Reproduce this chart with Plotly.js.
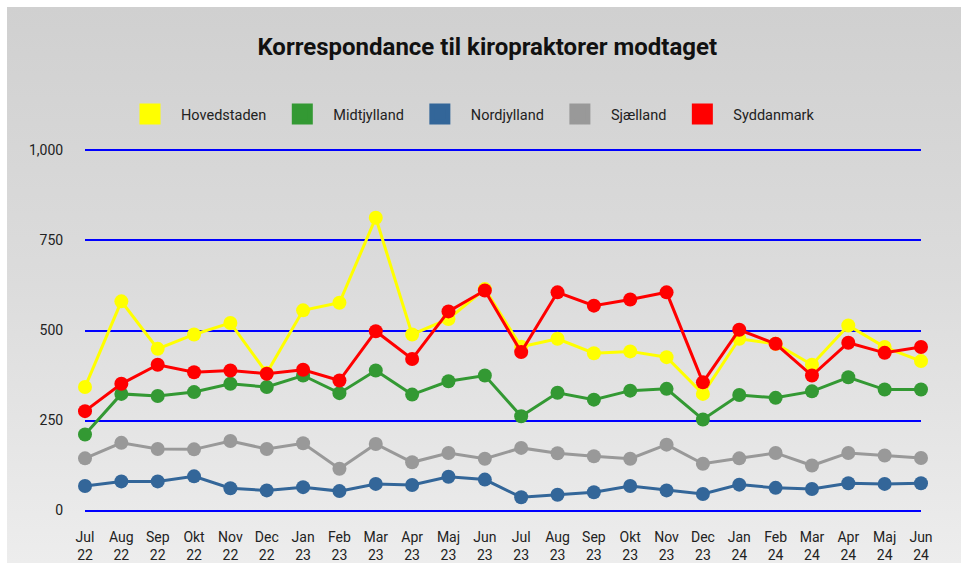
<!DOCTYPE html>
<html>
<head>
<meta charset="utf-8">
<script src="https://cdn.plot.ly/plotly-3.0.1.min.js"></script>
<style>
  html, body { margin: 0; padding: 0; background: #ffffff; }
  #wrap { position: relative; width: 961px; height: 563px; overflow: hidden; }
  #bg { position: absolute; left: 7px; top: 7px; right: 0; bottom: 0;
        background: linear-gradient(to bottom, #d0d0d0 0%, #dcdcdc 50%, #ededed 100%); }
  #chart { position: absolute; left: 0; top: 0; width: 961px; height: 563px; }
</style>
</head>
<body>
<div id="wrap"><div id="bg"></div><div id="chart"></div></div>
<script>
const months = ["Jul<br>22","Aug<br>22","Sep<br>22","Okt<br>22","Nov<br>22","Dec<br>22",
  "Jan<br>23","Feb<br>23","Mar<br>23","Apr<br>23","Maj<br>23","Jun<br>23",
  "Jul<br>23","Aug<br>23","Sep<br>23","Okt<br>23","Nov<br>23","Dec<br>23",
  "Jan<br>24","Feb<br>24","Mar<br>24","Apr<br>24","Maj<br>24","Jun<br>24"];

const hovedstaden = [343, 581, 449, 489, 521, 382, 556, 577, 813, 489, 532, 615,
  455, 477, 437, 442, 426, 324, 477, 463, 405, 514, 454, 415];
const midtjylland = [211, 324, 318, 329, 352, 343, 375, 326, 389, 322, 359, 375,
  262, 327, 308, 333, 338, 253, 321, 313, 331, 370, 336, 336];
const nordjylland = [68, 81, 81, 95, 62, 56, 65, 54, 74, 71, 94, 86,
  37, 44, 51, 68, 56, 46, 72, 63, 60, 76, 74, 76];
const sjaelland = [145, 188, 171, 170, 193, 171, 187, 116, 185, 134, 160, 144,
  174, 159, 151, 144, 183, 130, 145, 160, 125, 160, 153, 146];
const syddanmark = [276, 352, 405, 384, 389, 380, 391, 361, 498, 421, 553, 611,
  440, 606, 569, 586, 606, 356, 502, 463, 375, 466, 438, 454];

const seriesNames = ["Hovedstaden", "Midtjylland", "Nordjylland", "Sjælland", "Syddanmark"];
const seriesColors = ["#ffff00", "#339933", "#336699", "#999999", "#ff0000"];
const seriesValues = [hovedstaden, midtjylland, nordjylland, sjaelland, syddanmark];

const yTicks = [0, 250, 500, 750, 1000];

const traces = [];
seriesValues.forEach((vals, i) => {
  traces.push({
    type: "scatter", mode: "lines+markers",
    x: months, y: vals, name: seriesNames[i],
    line: { color: seriesColors[i], width: 3 },
    marker: { color: seriesColors[i], size: 14 },
    cliponaxis: false, showlegend: false, hoverinfo: "x+y+name"
  });
});
seriesValues.forEach((vals, i) => {
  traces.push({
    type: "scatter", mode: "markers",
    x: [null], y: [null], name: seriesNames[i],
    marker: { color: seriesColors[i], size: 16, symbol: "square",
              line: { color: seriesColors[i], width: 5 } },
    showlegend: true, hoverinfo: "skip"
  });
});

const layout = {
  width: 961, height: 563,
  paper_bgcolor: "rgba(0,0,0,0)", plot_bgcolor: "rgba(0,0,0,0)",
  font: { family: "Roboto, 'Noto Sans', sans-serif", size: 14, color: "#222222" },
  margin: { l: 85, r: 40, t: 149, b: 51, pad: 0 },
  title: {
    text: "<b>Korrespondance til kiropraktorer modtaget</b>",
    font: { family: "Roboto, sans-serif", size: 24, color: "#111111" },
    xref: "container", yref: "container", x: 0.507, xanchor: "center",
    y: 1 - 47 / 563, yanchor: "middle"
  },
  legend: {
    orientation: "h", xref: "container", yref: "container",
    x: 119 / 961, xanchor: "left", y: 1 - 114 / 563, yanchor: "middle",
    itemwidth: 52, bgcolor: "rgba(0,0,0,0)",
    font: { family: "Roboto, sans-serif", size: 14.5, color: "#222222" }
  },
  xaxis: {
    type: "category", range: [0, months.length - 1],
    showgrid: false, zeroline: false, showline: false,
    ticks: "outside", ticklen: 12, tickcolor: "rgba(0,0,0,0)",
    tickfont: { size: 14, color: "#222222" }, fixedrange: true
  },
  yaxis: {
    range: [-4, 1004], tickvals: yTicks, tickformat: ",",
    showgrid: true, gridcolor: "#0000ff", gridwidth: 2,
    zeroline: false, showline: false,
    ticks: "outside", ticklen: 18, tickcolor: "rgba(0,0,0,0)",
    tickfont: { size: 14, color: "#222222" }, fixedrange: true
  },
  showlegend: true
};

Plotly.newPlot("chart", traces, layout, { displayModeBar: false, staticPlot: true });
</script>
</body>
</html>
